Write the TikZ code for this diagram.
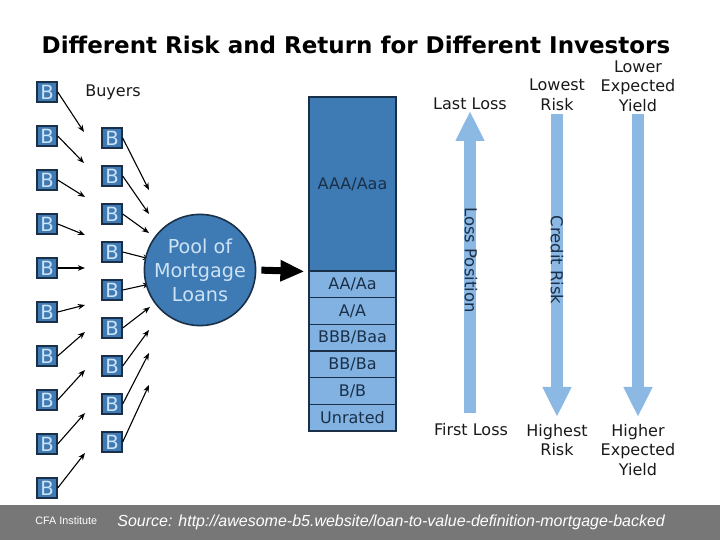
\documentclass[tikz,border=0pt]{standalone}
\usepackage{fontspec}
\setmainfont{DejaVu Sans}
\newfontfamily\footfont{Liberation Sans}
\usetikzlibrary{positioning,arrows.meta}

\definecolor{poolblue}{RGB}{62,122,180}
\definecolor{tranchelight}{RGB}{130,178,226}
\definecolor{edgenavy}{RGB}{26,48,72}
\definecolor{letterblue}{RGB}{205,226,245}
\definecolor{riskblue}{RGB}{140,184,228}
\definecolor{footgrey}{RGB}{119,119,119}

\tikzset{
  buyer/.style={draw=edgenavy, fill=poolblue, line width=0.7pt, minimum size=10pt,
    inner sep=0pt, text=letterblue, font=\fontsize{9.8}{9.8}\selectfont},
  flow/.style={->, line width=0.55pt},
  tranche/.style={draw=edgenavy, line width=0.6pt, fill=tranchelight, minimum width=43.5pt,
    minimum height=13.33pt, inner sep=0pt, text=edgenavy, font=\fontsize{8}{8}\selectfont},
  risk/.style={riskblue, line width=6pt, -{Triangle[length=15pt,width=13.5pt]}},
  lbl/.style={align=center, inner sep=0pt, text=black!90, font=\fontsize{8}{9.75}\selectfont},
  along/.style={rotate=-90, inner sep=0pt, text=edgenavy, font=\fontsize{8.2}{8.2}\selectfont}
}

\begin{document}
\begin{tikzpicture}[x=0.5pt,y=-0.5pt,>={Stealth[length=3.6pt,width=2.8pt]}]
\useasboundingbox (0,0) rectangle (720,540);
\node (title) at (356,45) {\fontsize{11.5}{12}\selectfont\bfseries Different Risk and Return for Different Investors};
\node[lbl] (buyers) at (113,92) {Buyers};
% outer column of buyers
\foreach \ex/\ey [count=\i from 0] in {84/132,84/163,85/197,85/235,85/268,85/305,85/332,85/370,85/413,85/453} {
  \node[buyer] (l\i) at (47,92+44*\i) {B};
  \coordinate (le\i) at (\ex,\ey);
  \draw[flow] (l\i.east) -- (le\i);
}
% inner column of buyers
\foreach \ex/\ey [count=\i from 0] in {149/190,149/214,149/233,150/259,150/284,150/307,149/330,149/353,149/385} {
  \node[buyer] (r\i) at (112,138+38*\i) {B};
  \coordinate (re\i) at (\ex,\ey);
  \draw[flow] (r\i.east) -- (re\i);
}
\node[circle, draw=edgenavy, fill=poolblue, line width=0.8pt, minimum size=48pt, inner sep=0pt,
  align=center, text=letterblue, font=\fontsize{9.6}{12}\selectfont] (pool) at (200,270) {Pool of\\Mortgage\\Loans};
% tranches
\node[tranche, fill=poolblue, minimum height=87pt] (aaa) at (352.5,184) {AAA/Aaa};
\foreach \txt [count=\k from 0] in {AA/Aa,A/A,BBB/Baa,BB/Ba,B/B,Unrated}
  \node[tranche] (t\k) at (352.5,284.33+26.67*\k) {\txt};
\draw[line width=3.5pt, -{Triangle[length=12pt,width=10pt]}, shorten <=2.5pt, shorten >=2pt] (pool.east) -- (aaa.south west);
% risk arrows
\coordinate (lossfoot) at (470,413);
\coordinate (losshead) at (470,111);
\coordinate (credtop) at (557,114);
\coordinate (credhead) at (557,417);
\coordinate (yieldtop) at (638,114);
\coordinate (yieldhead) at (638,417);
\draw[risk] (lossfoot) -- (losshead);
\draw[risk] (credtop) -- (credhead);
\draw[risk] (yieldtop) -- (yieldhead);
\node[along] (losspos) at (471,260) {Loss Position};
\node[along] (credit) at (557,260) {Credit Risk};
\node[lbl] (lastloss) at (470,104) {Last Loss};
\node[lbl] (lowest) at (557,95) {Lowest\\Risk};
\node[lbl] (lower) at (638,86) {Lower\\Expected\\Yield};
\node[lbl] (firstloss) at (471,430) {First Loss};
\node[lbl] (highest) at (557,440) {Highest\\Risk};
\node[lbl] (higher) at (638,450) {Higher\\Expected\\Yield};
% footer
\fill[footgrey] (0,505) rectangle (720,540);
\node[anchor=west, inner sep=0pt, text=white, font=\footfont\fontsize{5.4}{6}\selectfont] (cfa) at (35,521) {CFA Institute};
\node[anchor=west, inner sep=0pt, text=white, font=\footfont\itshape\fontsize{8}{9}\selectfont] (source) at (117,522) {Source: http://awesome-b5.website/loan-to-value-definition-mortgage-backed};
\end{tikzpicture}
\end{document}
